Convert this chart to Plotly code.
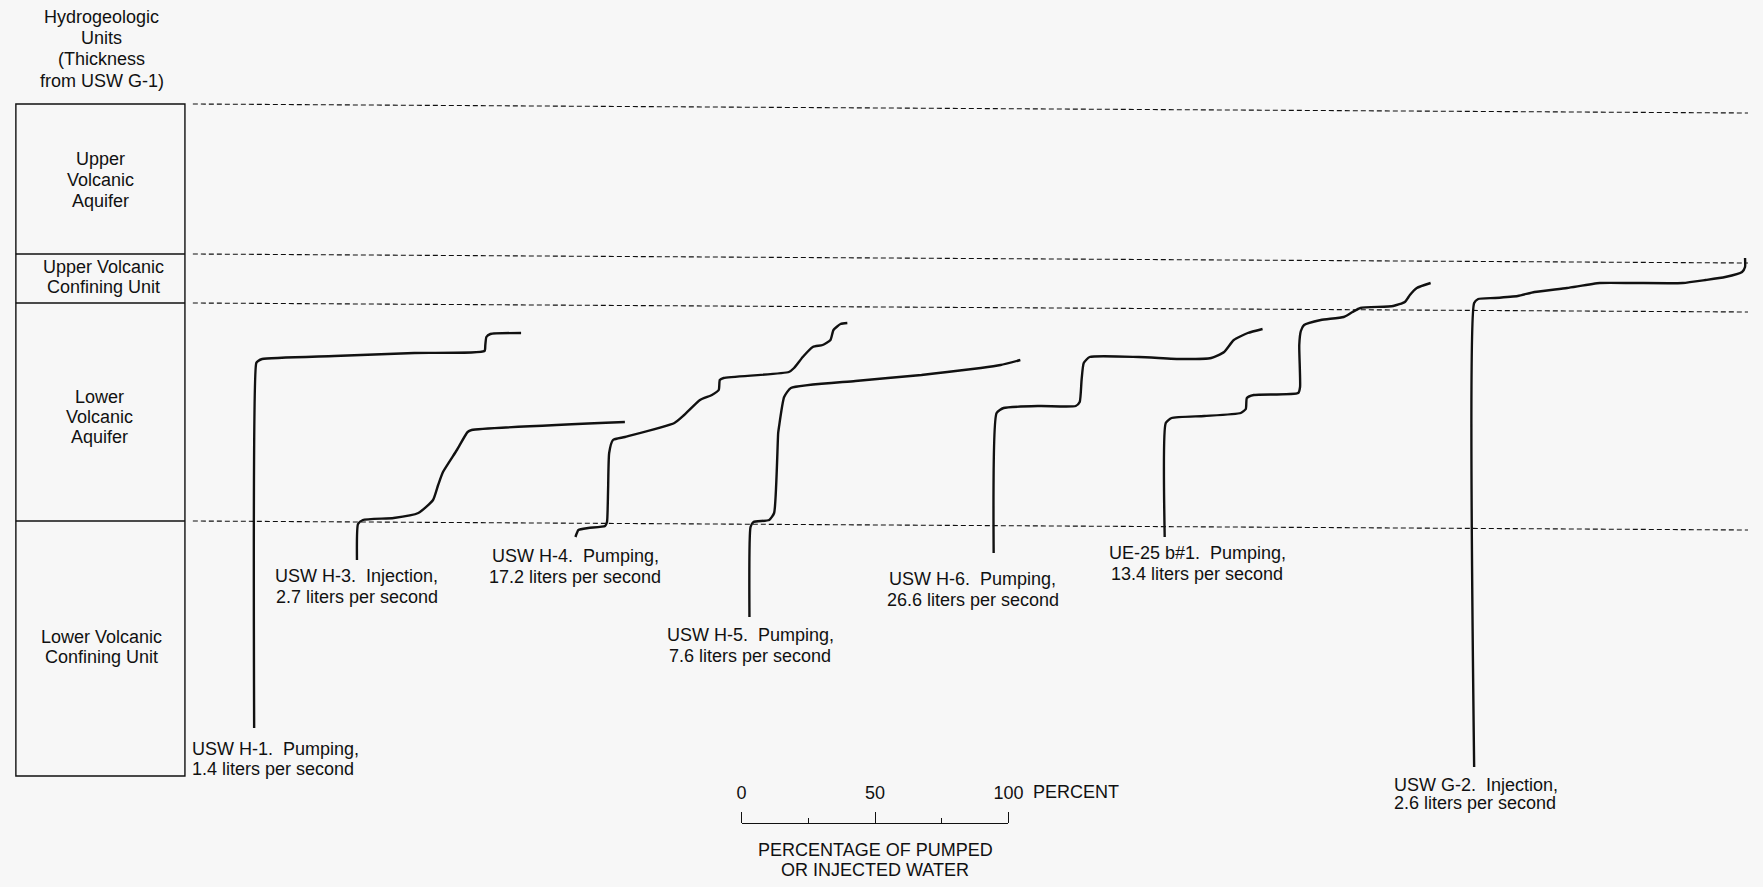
import plotly.graph_objects as go

W, H = 1763, 887
TOP_PX = 104          # pixel row of depth 0 (top of the unit column)
FONT = "Liberation Sans, Arial, Helvetica, sans-serif"
INK = "#111111"

# ---------------- data ----------------
# Hydrogeologic units at USW G-1 (depth below top of column, relative units)
unit_names = ["Upper Volcanic Aquifer", "Upper Volcanic Confining Unit",
              "Lower Volcanic Aquifer", "Lower Volcanic Confining Unit"]
unit_tops = [0, 150, 199, 417]
unit_bottoms = [150, 199, 417, 672]

# cumulative percentage of pumped / injected water vs depth, per well
h1_pct = [0, 0.8, 1.5, 3, 30, 60, 86.3, 86.6, 87, 88.5, 100]
h1_depth = [624, 259, 257, 255, 252, 249, 247, 241, 233, 230, 229]

h3_pct = [0, 0.4, 2.2, 13.7, 22.9, 28.4, 30.3, 32.1, 37.3, 41.3, 42.8, 100]
h3_depth = [456, 420, 416, 414, 409, 396, 381, 368, 346, 328, 326, 318]

h4_pct = [0, 1.1, 4.7, 10.9, 11.6, 12, 12.4, 13.8, 18.2, 36.4, 40, 45.8, 50.2,
          52.7, 53.1, 54.5, 78.5, 80.4, 83.6, 87.3, 90.9, 93.8, 94.9, 97.5, 100]
h4_depth = [433, 426, 424, 422, 418, 386, 349, 336, 333, 319, 311, 296, 291,
            286, 276, 274, 268, 264, 253, 243, 241, 236, 226, 220, 219]

h5_pct = [0, 0.4, 1.5, 7.3, 9.1, 10.6, 10.9, 12.8, 15.3, 39.1, 63.5, 73, 85.4, 92.7, 100]
h5_depth = [513, 423, 418, 416, 409, 329, 323, 293, 284, 277, 271, 268, 264, 261, 256]

h6_pct = [0, 1.1, 3.7, 17.3, 30.5, 32, 32.7, 33.5, 35.7, 54, 69.9, 80.9, 85.7, 89.3, 94.5, 100]
h6_depth = [449, 309, 304, 302, 302, 298, 276, 259, 253, 253, 255, 254, 248, 236, 229, 225]

b1_pct = [0, 0.4, 2.6, 14.9, 28.6, 30.5, 30.9, 33.5, 50.2, 50.9, 50.6, 51.2, 52.4,
          58.7, 67.3, 70.6, 73.6, 85.9, 90.3, 92.2, 94.8, 100]
b1_depth = [433, 319, 314, 312, 309, 305, 294, 291, 289, 283, 241, 227, 221,
            216, 213, 208, 204, 202, 198, 191, 184, 179]

g2_pct = [0, 0, 1.5, 7.7, 16.1, 22.3, 34.3, 46.4, 58.8, 77, 85.4, 92.7, 98.9, 100, 100]
g2_depth = [663, 199, 195, 194, 192, 188, 184, 179, 179, 179, 176, 173, 168, 163, 154]

well_names = ["USW H-1", "USW H-3", "USW H-4", "USW H-5", "USW H-6", "UE-25 b#1", "USW G-2"]
well_pcts = [h1_pct, h3_pct, h4_pct, h5_pct, h6_pct, b1_pct, g2_pct]
well_depths = [h1_depth, h3_depth, h4_depth, h5_depth, h6_depth, b1_depth, g2_depth]
well_label_1 = ["USW H-1.\u00a0 Pumping,", "USW H-3.\u00a0 Injection,", "USW H-4.\u00a0 Pumping,",
                "USW H-5.\u00a0 Pumping,", "USW H-6.\u00a0 Pumping,", "UE-25 b#1.\u00a0 Pumping,",
                "USW G-2.\u00a0 Injection,"]
well_label_2 = ["1.4 liters per second", "2.7 liters per second", "17.2 liters per second",
                "7.6 liters per second", "26.6 liters per second", "13.4 liters per second",
                "2.6 liters per second"]

scale_ticks = [0, 50, 100]
scale_minor_ticks = [25, 75]

# ---------------- layout geometry (pixels) ----------------
well_x0 = [252, 356, 577, 753, 1000, 1173, 1486]     # 0 percent
well_x1 = [522, 627, 852, 1027, 1272, 1442, 1760]    # 100 percent
label_pos = [(187, 749, 769, "left"), (356, 576, 597, "center"), (577, 556, 577, "center"),
             (754, 635, 656, "center"), (979, 579, 600, "center"), (1206, 553, 574, "center"),
             (1403, 785, 803, "left")]
COL_L, COL_R = 11, 182
DASH_L = 190
TILT = 9
PAD = 3.0


def px(x):
    return min(1.0, max(0.0, x / W))


def py(y):
    return 1 - y / H


fig = go.Figure()
layout = dict(
    width=W, height=H, margin=dict(l=0, r=0, t=0, b=0),
    paper_bgcolor="#f7f7f7", plot_bgcolor="rgba(0,0,0,0)",
    showlegend=False,
    font=dict(family=FONT, size=18, color=INK),
    xaxis=dict(domain=[0, 1], range=[0, W], visible=False),
    yaxis=dict(domain=[0, 1], range=[H - TOP_PX, -TOP_PX], visible=False),
)

for i, (name, p, d) in enumerate(zip(well_names, well_pcts, well_depths)):
    ax = i + 2
    s = (well_x1[i] - well_x0[i]) / 100.0
    left = max(0, well_x0[i] - PAD * s)
    right = min(W, well_x1[i] + PAD * s)
    layout[f"xaxis{ax}"] = dict(
        domain=[px(left), px(right)],
        range=[(left - well_x0[i]) / s, (right - well_x0[i]) / s],
        visible=False, anchor="y")
    fig.add_trace(go.Scatter(x=p, y=d, xaxis=f"x{ax}", yaxis="y", mode="lines",
                             line=dict(color=INK, width=2.4, shape="spline", smoothing=0.5),
                             name=name, hoverinfo="skip"))

# scale bar as an axis
sb = len(well_names) + 2
layout[f"xaxis{sb}"] = dict(
    domain=[px(745), px(1015)], range=[0, 100], anchor="free", position=py(823),
    side="top", showline=True, linecolor=INK, linewidth=1.4,
    ticks="outside", ticklen=11, tickwidth=1.4, tickcolor=INK,
    tickvals=scale_ticks, ticktext=[str(t) for t in scale_ticks],
    tickfont=dict(size=18, color=INK), ticklabelstandoff=6,
    showgrid=False, zeroline=False,
    minor=dict(tickvals=scale_minor_ticks, ticks="outside", ticklen=5,
               tickwidth=1.4, tickcolor=INK, showgrid=False))
fig.add_trace(go.Scatter(x=[0, 100], y=[-500, -500], xaxis=f"x{sb}", yaxis="y",
                         mode="markers", marker=dict(opacity=0), hoverinfo="skip"))

shapes = []
# unit column
shapes.append(dict(type="rect", xref="paper", yref="y", x0=px(COL_L), x1=px(COL_R),
                   y0=unit_tops[0], y1=unit_bottoms[-1], line=dict(color=INK, width=1.4)))
for b in unit_bottoms[:-1]:
    shapes.append(dict(type="line", xref="paper", yref="y", x0=px(COL_L), x1=px(COL_R),
                       y0=b, y1=b, line=dict(color=INK, width=1.4)))
# dashed contact lines
for t in unit_tops:
    shapes.append(dict(type="line", xref="paper", yref="y", x0=px(DASH_L), x1=1,
                       y0=t, y1=t + TILT, line=dict(color=INK, width=1.1, dash="5px,3px")))
layout["shapes"] = shapes

ann = []


def add_text(text, x, y, anchor="center", size=18):
    ann.append(dict(text=text, x=px(x), y=py(y), xref="paper", yref="paper",
                    xanchor=anchor, yanchor="middle", showarrow=False,
                    font=dict(size=size, color=INK, family=FONT)))


for t, y in zip(["Hydrogeologic", "Units", "(Thickness", "from USW G-1)"], [17, 38, 59, 81]):
    add_text(t, 98, y)
for t, y in zip(["Upper", "Volcanic", "Aquifer"], [159, 180, 201]):
    add_text(t, 97, y)
for t, y in zip(["Upper Volcanic", "Confining Unit"], [267, 287]):
    add_text(t, 100, y)
for t, y in zip(["Lower", "Volcanic", "Aquifer"], [397, 417, 437]):
    add_text(t, 96, y)
for t, y in zip(["Lower Volcanic", "Confining Unit"], [637, 657]):
    add_text(t, 98, y)

for (x, y1, y2, anc), l1, l2 in zip(label_pos, well_label_1, well_label_2):
    add_text(l1, x, y1, anc)
    add_text(l2, x, y2, anc)

add_text("PERCENT", 1038, 792, "left")
add_text("PERCENTAGE OF PUMPED", 880, 850)
add_text("OR INJECTED WATER", 880, 870)
layout["annotations"] = ann

fig.update_layout(**layout)
fig.write_html("out.html", config={"displayModeBar": False},
               post_script="document.body.style.margin='0px';")
